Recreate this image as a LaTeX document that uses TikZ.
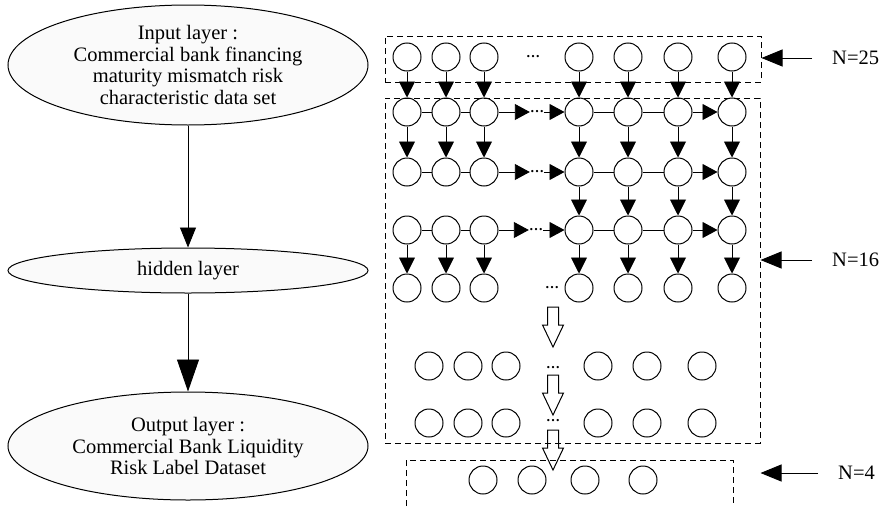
\documentclass[tikz,border=0pt]{standalone}
\usepackage{fontspec}
\setmainfont{Liberation Serif}
\usetikzlibrary{arrows.meta,shapes.geometric}
\begin{document}
\begin{tikzpicture}[x=1pt,y=-1pt,
  every node/.style={font=\fontsize{20.5}{21.7}\selectfont},
  layer/.style={ellipse, draw, line width=1pt, fill=black!2, inner sep=0pt, align=center, minimum width=360pt},
  neuron/.style={circle, draw, line width=1pt, minimum size=28pt, inner sep=0pt},
  dotsnode/.style={inner sep=0pt, font=\fontsize{14}{14}\selectfont\bfseries},
  dashbox/.style={draw, dash pattern=on 6pt off 4pt, line width=1pt},
  nlabel/.style={anchor=west, inner sep=0pt},
  link/.style={line width=0.9pt},
  varr/.style={line width=0.9pt, -{Triangle[length=16pt,width=16pt]}},
  harr/.style={line width=0.9pt, -{Triangle[length=15pt,width=16pt]}},
  larr/.style={line width=0.9pt, -{Triangle[length=21pt,width=17pt]}},
  arrA/.style={line width=0.9pt, -{Triangle[length=20pt,width=16pt]}},
  arrB/.style={line width=0.9pt, -{Triangle[length=32pt,width=22pt]}},
  blockdown/.pic={\draw[line width=1pt] (-5.5,0) -- (-5.5,18) -- (-10.5,18) -- (0,40) -- (10.5,18) -- (5.5,18) -- (5.5,0) -- cycle;}
]
\useasboundingbox (0,0) rectangle (882,506);

% left column
\node[layer, minimum height=120pt] (in) at (188,65) {Input layer :\\Commercial bank financing\\maturity mismatch risk\\characteristic data set};
\node[layer, minimum height=45pt] (hid) at (188,270.5) {hidden layer};
\node[layer, minimum height=108pt] (out) at (188,446) {Output layer :\\Commercial Bank Liquidity\\Risk Label Dataset};
\draw[arrA] (in) -- (hid);
\draw[arrB] (hid) -- (out);

% dashed boxes
\node[dashbox, minimum width=376pt, minimum height=46pt, inner sep=0pt] (box1) at (573,59) {};
\node[dashbox, minimum width=375pt, minimum height=345pt, inner sep=0pt] (box2) at (572.5,270.5) {};
\draw[dashbox] (406,506) |- (733,460) -- (733,506);

% neurons
\foreach \r/\y in {1/57,2/112,3/172,4/230,5/288}
  \foreach \c/\x in {1/407,2/446,3/484,5/579,6/628,7/678,8/732}
    \node[neuron] (c\r\c) at (\x,\y) {};
\foreach \r/\y in {6/366,7/423}
  \foreach \c/\x in {1/429,2/468,3/506,5/598,6/647,7/702}
    \node[neuron] (c\r\c) at (\x,\y) {};
\foreach \c/\x in {1/483,2/532,3/585,4/643}
  \node[neuron] (c8\c) at (\x,480) {};

% dots
\node[dotsnode] (d1) at (533,57) {…};
\node[dotsnode] (d2) at (537,112) {…};
\node[dotsnode] (d3) at (537,172) {…};
\node[dotsnode] (d4) at (536,230) {…};
\node[dotsnode] (d5) at (552,288) {…};
\node[dotsnode] (d6) at (553,368) {…};
\node[dotsnode] (d7) at (553,421) {…};

% horizontal connections
\foreach \r in {2,3,4} {
  \draw[link] (c\r1) -- (c\r2);
  \draw[link] (c\r2) -- (c\r3);
  \draw[harr] (c\r3) -- (d\r);
  \draw[harr] (d\r) -- (c\r5);
  \draw[link] (c\r5) -- (c\r6);
  \draw[link] (c\r6) -- (c\r7);
  \draw[harr] (c\r7) -- (c\r8);
}

% vertical connections
\foreach \c in {1,2,3,5,6,7,8} {
  \draw[varr] (c1\c) -- (c2\c);
  \draw[varr] (c2\c) -- (c3\c);
  \draw[varr] (c4\c) -- (c5\c);
}
\foreach \c in {5,6,7,8}
  \draw[varr] (c3\c) -- (c4\c);

% hollow block arrows
\pic at (553,307) {blockdown};
\pic at (553,375) {blockdown};
\pic at (553,430) {blockdown};

% size labels
\node[nlabel] (n25) at (832,58) {N=25};
\node[nlabel] (n16) at (832,260) {N=16};
\node[nlabel] (n4) at (838,473) {N=4};
\draw[larr] ([xshift=-20pt]n25.west) -- (n25.west -| box1.east);
\draw[larr] ([xshift=-20pt]n16.west) -- (n16.west -| box2.east);
\draw[larr] ([xshift=-20pt]n4.west) -- (n4.west -| box2.east);
\end{tikzpicture}
\end{document}
